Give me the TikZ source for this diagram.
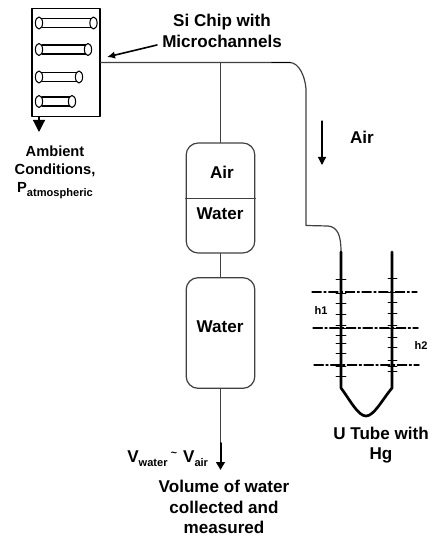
\documentclass[tikz,border=0pt]{standalone}
\usepackage{fontspec}
\setmainfont{Liberation Sans}
\usetikzlibrary{arrows.meta}
\newcommand{\bigtext}{\fontsize{12.8}{15.5}\selectfont\bfseries}
\newcommand{\midtext}{\fontsize{11}{13.8}\selectfont\bfseries}
\newcommand{\smalltext}{\fontsize{8.3}{10}\selectfont\bfseries}
\newcommand{\lowtext}[1]{\raisebox{-0.45ex}{\fontsize{8.3}{10}\selectfont\bfseries #1}}
\definecolor{linegray}{rgb}{0.25,0.25,0.25}

\begin{document}
\begin{tikzpicture}[x=0.75pt,y=-0.75pt,line cap=round,line join=round,
    pipe/.style={color=linegray,line width=0.9pt},
    tube/.style={line width=2pt},
    tick/.style={line width=0.7pt},
    level/.style={line width=1pt,dash pattern=on 7pt off 2pt on 1.5pt off 2pt},
    vessel/.style={draw=linegray,line width=0.9pt,rounded corners=9pt,inner sep=0pt,minimum width=51.5pt},
    headtip/.style={-{Triangle[length=6pt,width=6pt]}},
    lbl/.style={inner sep=0pt,align=center}]
    \useasboundingbox (0,0) rectangle (432,538);
    % chip
    \node [draw,line width=0.9pt,inner sep=0pt,minimum width=51pt,minimum height=81.5pt] (chip) at (66,62.5) {};
    \foreach \ypos/\xend in {23/93.5,49.5/88,77/79,101.5/72}{
        \draw [line width=0.8pt] (42,\ypos-4.5) -- (\xend,\ypos-4.5);
        \draw [line width=0.8pt] (42,\ypos+4.5) -- (\xend,\ypos+4.5);
        \draw [line width=0.8pt,fill=white] (39,\ypos) ellipse (2.7pt and 4.5pt);
        \draw [line width=0.8pt,fill=white] (\xend,\ypos) ellipse (2.7pt and 4.5pt);
    }
    \coordinate (chiptail) at (39,117);
    \coordinate (chiptip) at (39,132);
    \draw [line width=0.9pt,-{Triangle[length=9pt,width=9pt]}] (chiptail) -- (chiptip);
    \coordinate (notestart) at (157,45);
    \coordinate (noteend) at (107,57);
    \draw [line width=1.2pt,-{Latex[length=6pt,width=5.5pt]}] (notestart) -- (noteend);
    % vessels
    \node [vessel,minimum height=82.5pt] (upper) at (220.5,198) {};
    \node [vessel,minimum height=83pt] (lower) at (220.5,333) {};
    \draw [pipe,line width=0.7pt] (upper.west) -- (upper.east);
    \coordinate (joint) at (220.5,62.5);
    \coordinate (outlet) at (220.5,443);
    \coordinate (outtip) at (220.5,470);
    \draw [pipe] (joint) -- (upper.north);
    \draw [pipe] (upper.south) -- (lower.north);
    \draw [pipe] (lower.south) -- (outlet);
    \draw [line width=1.5pt,-{Triangle[length=6pt,width=6.5pt]}] (outlet) -- (outtip);
    % line over to the u tube
    \coordinate (bendin) at (290,62.5);
    \coordinate (bendout) at (306,89);
    \coordinate (tubein) at (306,225.5);
    \coordinate (tubeleft) at (341,252);
    \coordinate (tuberight) at (392,252);
    \coordinate (baseleft) at (341,388);
    \coordinate (baseright) at (392,388);
    \coordinate (basemid) at (366,416);
    \draw [pipe] (chip.east) -- (bendin) .. controls (299,63) and (305,76) .. (bendout) -- (tubein)
        -- (328,226) .. controls (338,227) and (341,236) .. (tubeleft);
    \draw [line width=1.4pt] (272,62.5) -- (290,62.5);
    \coordinate (airstart) at (322,121);
    \coordinate (airend) at (322,165);
    \draw [line width=0.9pt,headtip] (airstart) -- (airend);
    % u tube
    \draw [tube] (tubeleft) -- (baseleft) .. controls (350,400) and (358,416) .. (basemid)
        .. controls (374,416) and (382,400) .. (baseright) -- (tuberight);
    \foreach \ypos in {279,293,303,314,325,328,335,343,353,366,376}
        \draw [tick] (336,\ypos) -- (346,\ypos);
    \foreach \ypos in {278,292,302,313,325,328,337,347,360,366,371}
        \draw [tick] (388,\ypos) -- (397,\ypos);
    \draw [level,line width=0.8pt] (312,292) -- (417,292);
    \draw [level] (313,328) -- (418,328);
    \draw [level] (314,365) -- (419,365);
    % labels
    \node [lbl,font=\bigtext] (chiplabel) at (222,31) {Si Chip with\\Microchannels};
    \node [lbl,font=\midtext] (ambient) at (55,172) {Ambient\\Conditions,\\P\lowtext{atmospheric}};
    \node [lbl,font=\bigtext] (airtop) at (222,172) {Air};
    \node [lbl,font=\bigtext] (watertop) at (220,214) {Water};
    \node [lbl,font=\bigtext] (waterlow) at (220,327) {Water};
    \node [lbl,font=\bigtext] (airside) at (362,137) {Air};
    \node [lbl,font=\smalltext] (hone) at (321,310) {h1};
    \node [lbl,font=\smalltext] (htwo) at (421,345) {h2};
    \node [lbl,font=\bigtext] (tubelabel) at (381,445) {U Tube with\\Hg};
    \node [lbl,font=\bigtext,anchor=west] (vlabel) at (127,459) {V\lowtext{water}\hspace{2.5pt}\raisebox{0.7ex}{\fontsize{8}{10}\selectfont\textasciitilde}\hspace{4.5pt}V\lowtext{air}};
    \node [lbl,font=\bigtext] (vollabel) at (224,507) {Volume of water\\collected and\\measured};
\end{tikzpicture}
\end{document}
